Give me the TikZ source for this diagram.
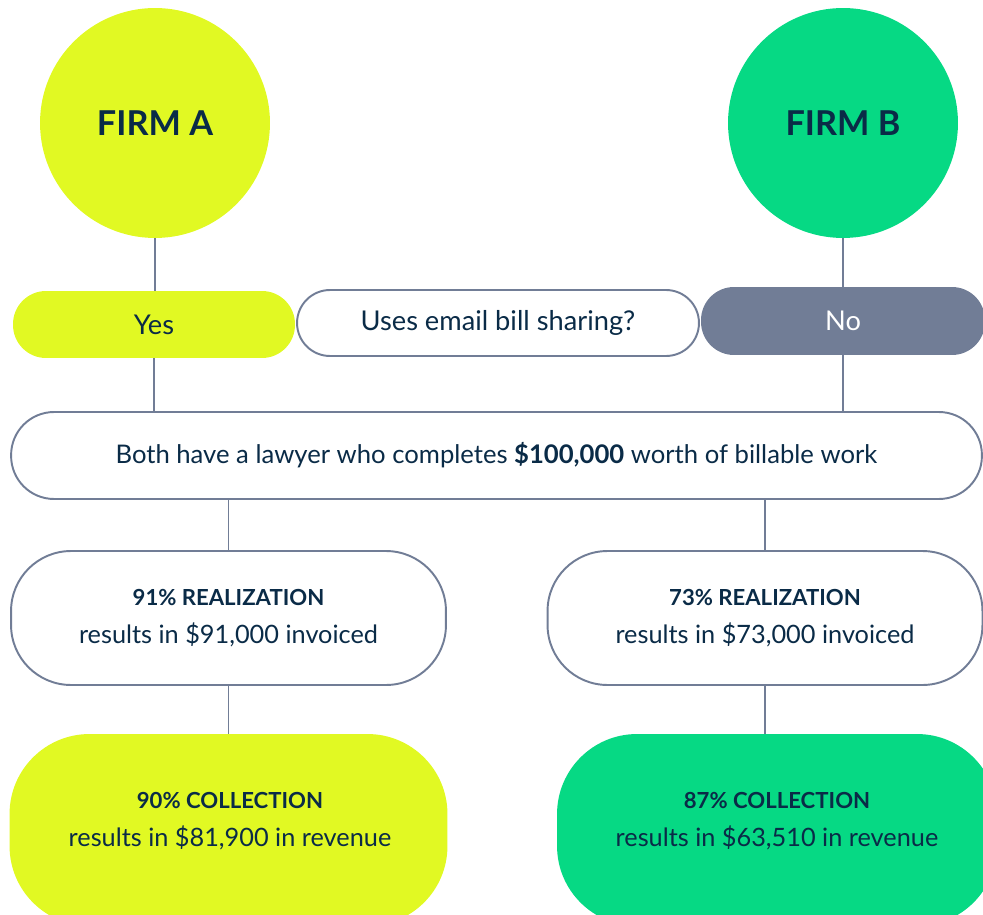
\documentclass[tikz,border=0pt]{standalone}
\usepackage{fontspec}
\setmainfont{Lato}
\definecolor{firmyellow}{HTML}{E1F923}
\definecolor{firmgreen}{HTML}{06D984}
\definecolor{slate}{HTML}{717D96}
\definecolor{navy}{HTML}{0A2B47}
\newcommand{\headtxt}{\fontsize{12.6}{14}\selectfont\bfseries}
\begin{document}
\begin{tikzpicture}[x=0.02cm, y=-0.02cm,
    firm/.style={circle, minimum size=4.6cm, inner sep=0pt, text=navy, font=\fontsize{19.5}{24}\selectfont\bfseries},
    pill/.style={rectangle, rounded corners=0.66cm, inner sep=0pt, text=navy, font=\fontsize{15.5}{18}\selectfont},
    outline/.style={draw=slate, line width=1.1pt, fill=white},
    txt/.style={text=navy, align=center, font=\fontsize{14.4}{21.5}\selectfont},
    result/.style={rectangle, rounded corners=1.2cm, minimum width=8.7cm, minimum height=2.68cm, inner sep=0pt, outline, txt},
    collect/.style={rectangle, rounded corners=1.6cm, minimum width=8.76cm, minimum height=3.84cm, inner sep=0pt},
    link/.style={draw=slate, line width=1.1pt}]
    \useasboundingbox (0,0) rectangle (983,915);
    \clip (0,0) rectangle (983,915);

    % Firms
    \node[firm, fill=firmyellow] (firmA) at (155,123) {FIRM A};
    \node[firm, fill=firmgreen] (firmB) at (843,123) {FIRM B};

    % Question row
    \node[pill, fill=firmyellow, minimum width=5.64cm, minimum height=1.34cm] (yes) at (154,324.5) {Yes};
    \node[pill, outline, minimum width=8.04cm, minimum height=1.32cm] (ask) at (498,323) {Uses email bill sharing?};
    \node[pill, fill=slate, text=white, minimum width=5.68cm, minimum height=1.36cm] (no) at (843,321) {No};

    % Shared work
    \node[pill, outline, rounded corners=0.86cm, minimum width=19.42cm, minimum height=1.74cm, font=\fontsize{14.6}{17}\selectfont] (work) at (496.5,455.5)
        {Both have a lawyer who completes \textbf{\$100,000} worth of billable work};

    % Realization
    \node[result] (realA) at (228.5,618) {{\headtxt 91\% REALIZATION}\\results in \$91,000 invoiced};
    \node[result] (realB) at (765,618) {{\headtxt 73\% REALIZATION}\\results in \$73,000 invoiced};

    % Collection
    \node[collect, fill=firmyellow] (colA) at (228.5,830) {};
    \node[collect, fill=firmgreen, minimum width=8.8cm] (colB) at (777,830) {};
    \node[txt] (colAtext) at (230,821) {{\headtxt 90\% COLLECTION}\\results in \$81,900 in revenue};
    \node[txt] (colBtext) at (777,821) {{\headtxt 87\% COLLECTION}\\results in \$63,510 in revenue};

    % Connectors
    \draw[link] (firmA.south) -- (firmA.south |- yes.north);
    \draw[link] (firmB.south) -- (firmB.south |- no.north);
    \draw[link] (yes.south) -- (yes.south |- work.north);
    \draw[link] (no.south) -- (no.south |- work.north);
    \draw[link] (work.south -| realA.north) -- (realA.north);
    \draw[link] (work.south -| realB.north) -- (realB.north);
    \draw[link] (realA.south) -- (colA.north);
    \draw[link] (realB.south) -- (realB.south |- colB.north);
\end{tikzpicture}
\end{document}
